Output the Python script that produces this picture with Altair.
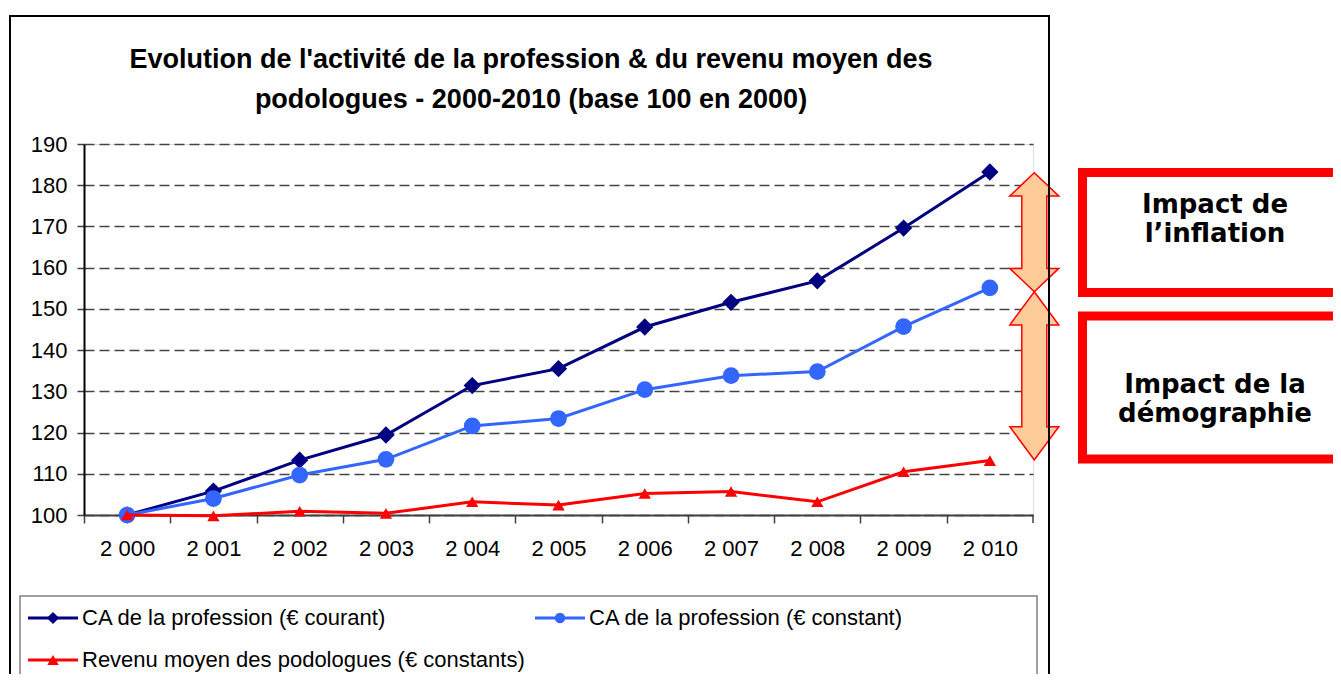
import altair as alt
import pandas as pd

# ---------------- data ----------------
annees = ["2 000", "2 001", "2 002", "2 003", "2 004", "2 005",
          "2 006", "2 007", "2 008", "2 009", "2 010"]
ca_courant = [100, 105.8, 113.3, 119.4, 131.4, 135.5, 145.6, 151.6, 156.8, 169.6, 183.2]
ca_constant = [100, 104.0, 109.7, 113.5, 121.6, 123.4, 130.4, 133.8, 134.8, 145.7, 155.1]
revenu_moyen = [100, 99.8, 100.9, 100.4, 103.2, 102.4, 105.2, 105.7, 103.2, 110.5, 113.2]
series_noms = ["CA de la profession (€ courant)",
               "CA de la profession (€ constant)",
               "Revenu moyen des podologues (€ constants)"]
titre = ["Evolution de l'activité de la profession & du revenu moyen des",
         "podologues - 2000-2010 (base 100 en 2000)"]
impact_textes = ["Impact de\nl’inflation", "Impact de la\ndémographie"]
y_ticks = list(range(100, 191, 10))

# ---------------- layout ----------------
W, H = 949, 371
step = W / len(annees)
FONT = "Liberation Sans"

x_enc = alt.X(
    "annee:O", sort=annees,
    scale=alt.Scale(type="point", padding=0.5, domain=annees),
    axis=alt.Axis(title=None, labelFont=FONT, labelFontSize=22, labelColor="black",
                  labelAngle=0, labelPadding=15, tickSize=8, tickColor="#404040",
                  tickWidth=1.5, tickOffset=-step / 2, labelOffset=step / 2,
                  domainColor="#404040", domainWidth=2, grid=False),
)
y_enc = alt.Y(
    "valeur:Q",
    scale=alt.Scale(domain=[100, 190], nice=False, zero=False),
    axis=alt.Axis(title=None, values=y_ticks, labelFont=FONT, labelFontSize=22,
                  labelColor="black", labelPadding=10, tickSize=7, tickColor="#404040",
                  tickWidth=1.5, domainColor="black", domainWidth=2, grid=True,
                  gridColor="#444444", gridDash=[10, 5], gridWidth=1.4),
)

styles = [("#000080", "diamond", 300, 150),
          ("#3366FF", "circle", 280, 110),
          ("#FF0000", "triangle-up", 150, 130)]

layers = []
for nom, vals, (col, shp, sz, _) in zip(series_noms, [ca_courant, ca_constant, revenu_moyen], styles):
    d = pd.DataFrame({"annee": annees, "valeur": vals, "serie": nom})
    base = alt.Chart(d).encode(x=x_enc, y=y_enc)
    layers.append(base.mark_line(color=col, strokeWidth=3))
    layers.append(base.mark_point(shape=shp, size=sz, filled=True, color=col, opacity=1))

# last x tick at right edge
one = pd.DataFrame({"k": [0]})
layers.append(alt.Chart(one).mark_rule(color="#404040", strokeWidth=1.5).encode(
    x=alt.value(W), y=alt.value(H), y2=alt.value(H + 8)))

# title (two lines)
for ligne, yy in zip(titre, [-76, -36]):
    layers.append(alt.Chart(pd.DataFrame({"titre": [ligne]})).mark_text(
        align="center", baseline="alphabetic", font=FONT, fontSize=27, fontWeight="bold",
        color="black").encode(x=alt.value(447), y=alt.value(yy), text="titre:N"))

# legend box
layers.append(alt.Chart(one).mark_rect(fill="white", stroke="#808080", strokeWidth=1.5).encode(
    x=alt.value(-64), x2=alt.value(953), y=alt.value(452), y2=alt.value(580)))
leg_pos = [(-56, -6, -31, -2, 474), (451, 501, 476, 505, 474), (-56, -6, -31, -2, 516)]
for nom, (col, shp, _, lsz), (x1, x2, xm, xt, yy) in zip(series_noms, styles, leg_pos):
    c = alt.Chart(pd.DataFrame({"serie": [nom]}))
    layers.append(c.mark_rule(color=col, strokeWidth=3).encode(
        x=alt.value(x1), x2=alt.value(x2), y=alt.value(yy)))
    layers.append(c.mark_point(shape=shp, size=lsz, filled=True, color=col, opacity=1).encode(
        x=alt.value(xm), y=alt.value(yy)))
    layers.append(c.mark_text(align="left", baseline="middle", font=FONT, fontSize=22,
                              color="black").encode(
        x=alt.value(xt), y=alt.value(yy), text="serie:N"))

# double arrows
arrow1 = ("M0,-0.595L0.245,-0.362L0.125,-0.362L0.125,0.362L0.245,0.362L0,0.595"
          "L-0.245,0.362L-0.125,0.362L-0.125,-0.362L-0.245,-0.362Z")
arrow2 = ("M0,-0.8415L0.245,-0.5085L0.125,-0.5085L0.125,0.5085L0.245,0.5085L0,0.8415"
          "L-0.245,0.5085L-0.125,0.5085L-0.125,-0.5085L-0.245,-0.5085Z")
for path, yc in [(arrow1, 88.2), (arrow2, 231.85)]:
    layers.append(alt.Chart(one).mark_point(shape=path, size=40000, filled=True,
                                            fill="#FFCC99", stroke="#FF0000",
                                            strokeWidth=1.5, opacity=1).encode(
        x=alt.value(950.3), y=alt.value(yc)))

# impact boxes
for txt, (y1, y2), yt in zip(impact_textes, [(28.5, 148.5), (172, 315)], [61, 241]):
    c = alt.Chart(pd.DataFrame({"texte": [txt]}))
    layers.append(c.mark_rect(fill="white", stroke="#FF0000", strokeWidth=9).encode(
        x=alt.value(998.5), x2=alt.value(1320), y=alt.value(y1), y2=alt.value(y2)))
    layers.append(c.mark_text(align="center", baseline="middle", font="DejaVu Sans",
                              fontSize=26, fontWeight="bold",
                              lineBreak="\n", lineHeight=29, color="black").encode(
        x=alt.value(1131), y=alt.value(yt), text="texte:N"))

# outer chart frame
layers.append(alt.Chart(one).mark_rect(fill="transparent", stroke="black", strokeWidth=2).encode(
    x=alt.value(-74), x2=alt.value(965), y=alt.value(-128), y2=alt.value(580)))

chart = alt.layer(*layers).properties(
    width=W, height=H,
    autosize=alt.AutoSizeParams(type="none"),
    padding={"left": 76, "top": 136, "right": 300, "bottom": 159},
).configure_view(stroke="#808080", strokeWidth=1).configure(background="white")

chart.save("out.html", embed_options={"renderer": "svg", "actions": False})
